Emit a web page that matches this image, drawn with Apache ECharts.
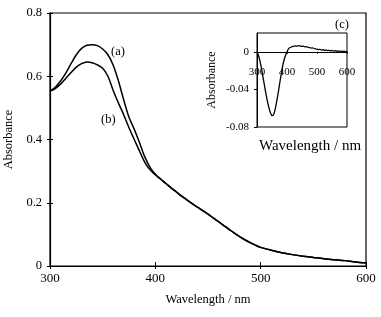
<!DOCTYPE html>
<html><head><meta charset="utf-8">
<script src="https://cdn.jsdelivr.net/npm/echarts@6/dist/echarts.min.js"></script>
<style>html,body{margin:0;padding:0;background:#fff}#c{width:381px;height:317px}</style>
</head><body><div id="c"></div>
<script>
// Main spectra
const wavelengths = [300,305,310,315,320,325,330,335,340,345,350,355,360,365,370,375,380,385,390,395,400,
  405,410,415,420,425,430,435,440,445,450,455,460,465,470,475,480,485,490,495,500,
  510,520,530,540,550,560,570,580,590,600];
const tail = [0.275,0.261,0.247,0.234,0.221,0.209,0.197,0.186,0.175,0.164,0.152,0.140,0.128,0.116,0.104,0.093,0.083,0.074,0.066,0.059,
  0.050,0.042,0.036,0.031,0.027,0.023,0.020,0.017,0.013,0.010];
const absA = [0.553,0.565,0.585,0.610,0.640,0.668,0.688,0.698,0.700,0.697,0.686,0.668,0.635,0.585,0.525,0.470,0.432,0.390,0.345,0.312,0.290].concat(tail);
const absB = [0.553,0.561,0.575,0.593,0.612,0.629,0.640,0.645,0.643,0.636,0.625,0.600,0.555,0.515,0.478,0.437,0.400,0.363,0.328,0.304,0.288].concat(tail);
// Inset difference spectrum (c)
const insetWl = [];
for (let w = 300; w <= 600; w += 5) insetWl.push(w);
const diffC = [0,-0.004,-0.010,-0.018,-0.027,-0.036,-0.045,-0.053,-0.060,-0.065,-0.068,-0.067,-0.062,-0.054,-0.045,-0.035,-0.025,-0.016,-0.009,-0.004,
  0.000,0.003,0.0045,0.0052,0.0058,0.006,0.0063,0.0060,0.0065,0.0061,0.0058,0.0060,0.0052,0.0055,0.0048,0.0045,0.0040,0.0042,0.0035,0.0030,
  0.0028,0.0024,0.0026,0.0018,0.0022,0.0015,0.0019,0.0012,0.0016,0.0010,0.0014,0.0008,0.0012,0.0006,0.0010,0.0004,0.0008,0.0003,0.0006,0.0002,0.0004];
const mainXTicks = [300, 600, 100];
const mainYTicks = [0, 0.8, 0.2];
const insetYTicks = [-0.08, 0.02, 0.04];

const FONT = '"Liberation Serif","Times New Roman",serif';
const pairs = (xs, ys) => xs.map((x, i) => [x, ys[i]]);
const chart = echarts.init(document.getElementById('c'), null, {renderer: 'canvas'});
const txt = {color: '#000', fontFamily: FONT};
chart.setOption({
  animation: false,
  backgroundColor: '#fff',
  grid: [
    {left: 50, top: 13, width: 316, height: 253, show: true, borderColor: '#000', borderWidth: 1.2, containLabel: false, outerBoundsMode: 'none'},
    {left: 257, top: 33, width: 90, height: 94, show: true, borderColor: '#000', borderWidth: 1, containLabel: false, outerBoundsMode: 'none'}
  ],
  xAxis: [
    {gridIndex: 0, type: 'value', min: mainXTicks[0], max: mainXTicks[1], interval: mainXTicks[2],
     name: 'Wavelength / nm', nameLocation: 'middle', nameGap: 27, nameTextStyle: Object.assign({fontSize: 12.5}, txt),
     axisLine: {lineStyle: {color: '#000', width: 1.2}}, axisTick: {length: 3, lineStyle: {color: '#000'}},
     axisLabel: Object.assign({fontSize: 13, margin: 6}, txt), splitLine: {show: false}},
    {gridIndex: 0, type: 'value', min: mainXTicks[0], max: mainXTicks[1], interval: mainXTicks[2], position: 'bottom',
     axisLine: {show: false}, axisTick: {inside: true, length: 4, lineStyle: {color: '#000'}}, axisLabel: {show: false}, splitLine: {show: false}},
    {gridIndex: 1, type: 'value', min: 300, max: 600, interval: 100,
     axisLine: {onZero: true, lineStyle: {color: '#000', width: 1}}, axisTick: {length: 2, lineStyle: {color: '#000'}},
     axisLabel: Object.assign({fontSize: 11, margin: -60}, txt), splitLine: {show: false}}
  ],
  yAxis: [
    {gridIndex: 0, type: 'value', min: mainYTicks[0], max: mainYTicks[1], interval: mainYTicks[2],
     name: 'Absorbance', nameLocation: 'middle', nameGap: 31, nameTextStyle: Object.assign({fontSize: 12.5}, txt),
     axisLine: {lineStyle: {color: '#000', width: 1.2}}, axisTick: {length: 3, lineStyle: {color: '#000'}},
     axisLabel: Object.assign({fontSize: 12.5, margin: 8, formatter: v => v === 0 ? '0' : v.toFixed(1)}, txt), splitLine: {show: false}},
    {gridIndex: 0, type: 'value', min: mainYTicks[0], max: mainYTicks[1], interval: mainYTicks[2], position: 'left',
     axisLine: {show: false}, axisTick: {inside: true, length: 3, lineStyle: {color: '#000'}}, axisLabel: {show: false}, splitLine: {show: false}},
    {gridIndex: 1, type: 'value', min: insetYTicks[0], max: insetYTicks[1], interval: insetYTicks[2],
     name: 'Absorbance', nameLocation: 'middle', nameGap: 39, nameTextStyle: Object.assign({fontSize: 12}, txt),
     axisLine: {onZero: false, lineStyle: {color: '#000', width: 1}}, axisTick: {length: 3, lineStyle: {color: '#000'}},
     axisLabel: Object.assign({fontSize: 11, margin: 8, showMaxLabel: false, formatter: v => v === 0 ? '0' : v.toFixed(2)}, txt), splitLine: {show: false}}
  ],
  series: [
    {type: 'line', xAxisIndex: 0, yAxisIndex: 0, data: pairs(wavelengths, absA), showSymbol: false, smooth: 0.3,
     lineStyle: {color: '#000', width: 1.5}},
    {type: 'line', xAxisIndex: 0, yAxisIndex: 0, data: pairs(wavelengths, absB), showSymbol: false, smooth: 0.3,
     lineStyle: {color: '#000', width: 1.5}},
    {type: 'line', xAxisIndex: 2, yAxisIndex: 2, data: pairs(insetWl, diffC), showSymbol: false, smooth: 0.2,
     lineStyle: {color: '#000', width: 1.3}}
  ],
  graphic: [
    {type: 'text', left: 111, top: 45, style: Object.assign({text: '(a)', fontSize: 12.5, fill: '#000', fontFamily: FONT})},
    {type: 'text', left: 101, top: 113, style: Object.assign({text: '(b)', fontSize: 12.5, fill: '#000', fontFamily: FONT})},
    {type: 'text', left: 335, top: 18, style: Object.assign({text: '(c)', fontSize: 12.5, fill: '#000', fontFamily: FONT})},
    {type: 'text', left: 259, top: 139, style: Object.assign({text: 'Wavelength / nm', fontSize: 15, fill: '#000', fontFamily: FONT})}
  ]
});
</script></body></html>
